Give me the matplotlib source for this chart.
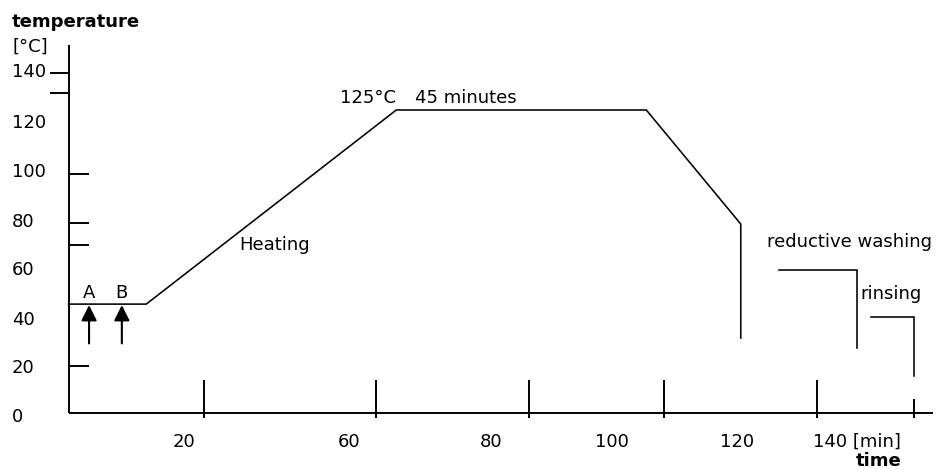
import matplotlib
matplotlib.use("Agg")
import matplotlib.pyplot as plt

# Dyeing temperature programme (time in minutes, temperature in °C)
profile_time = [0, 14, 59, 104, 121, 121]
profile_temp = [45, 45, 125, 125, 78, 31]

wash_time = [127.8, 141.9, 141.9]
wash_temp = [59, 59, 27]

rinse_time = [144.4, 152.2, 152.2]
rinse_temp = [39.5, 39.5, 15.5]

# Dosing points
dose_labels = ["A", "B"]
dose_times = [3.7, 9.6]
dose_temp = 45

# Axis annotations
y_tick_labels = ["140", "120", "100", "80", "60", "40", "20", "0"]
y_label_pos = [138.5, 117.6, 97.2, 76.9, 57.2, 36.4, 16.5, -3.5]
y_ticks_inner = [98.5, 78.6, 69.2, 19.6]
y_ticks_outer = [140.1, 131.9]

x_tick_labels = ["20", "60", "80", "100", "120"]
x_label_pos = [20.7, 50.5, 76.1, 97.8, 120.4]
x_ticks = [24.3, 55.3, 82.9, 107.2, 134.8]
x_tick_last = 152.1

FS = 13
FONT = "DejaVu Sans"

fig = plt.figure(figsize=(9.39, 4.70), dpi=100)
ax = fig.add_axes([0, 0, 1, 1])
ax.set_xlim(-12.33, 156.68)
ax.set_ylim(-23.37, 170.33)
ax.axis("off")

axis_kw = dict(color="black", lw=1.4, solid_capstyle="butt")
line_kw = dict(color="black", lw=1.15, solid_joinstyle="miter")

# axes
ax.plot([0, 0], [0, 151.8], **axis_kw)
ax.plot([0, 155.6], [0, 0], **axis_kw)

# y ticks
for y in y_ticks_inner:
    ax.plot([0, 3.6], [y, y], **axis_kw)
for y in y_ticks_outer:
    ax.plot([-3.4, 0], [y, y], **axis_kw)

# x ticks
for x in x_ticks:
    ax.plot([x, x], [-2.0, 13.7], **axis_kw)
ax.plot([x_tick_last, x_tick_last], [-2.0, 5.8], **axis_kw)

# temperature curve
ax.plot(profile_time, profile_temp, **line_kw)
ax.plot(wash_time, wash_temp, **line_kw)
ax.plot(rinse_time, rinse_temp, **line_kw)

# dosing arrows
for lab, t in zip(dose_labels, dose_times):
    ax.annotate("", xy=(t, dose_temp - 0.4), xytext=(t, 28.8),
                arrowprops=dict(arrowstyle="-|>,head_length=0.6,head_width=0.3",
                                color="black", lw=1.5, mutation_scale=15.6,
                                shrinkA=0, shrinkB=0))
    ax.text(t, 47.4, lab, ha="center", va="baseline", fontsize=FS, family=FONT)

txt = dict(fontsize=FS, family=FONT, va="baseline")

# axis titles
ax.text(-10.17, 159.0, "temperature", fontweight="bold", ha="left", **txt)
ax.text(-10.17, 148.9, "[°C]", ha="left", **txt)
ax.text(150.0, -21.6, "time", fontweight="bold", ha="right", **txt)

# tick labels
for lab, y in zip(y_tick_labels, y_label_pos):
    ax.text(-10.17, y, lab, ha="left", **txt)
for lab, x in zip(x_tick_labels, x_label_pos):
    ax.text(x, -13.7, lab, ha="center", **txt)
ax.text(134.0, -13.7, "140 [min]", ha="left", **txt)

# phase labels
ax.text(48.87, 127.8, "125°C", ha="left", **txt)
ax.text(62.4, 127.8, "45 minutes", ha="left", **txt)
ax.text(30.7, 67.3, "Heating", ha="left", **txt)
ax.text(125.7, 68.4, "reductive washing", ha="left", **txt)
ax.text(142.5, 47.1, "rinsing", ha="left", **txt)

fig.savefig("out.png", dpi=100)
